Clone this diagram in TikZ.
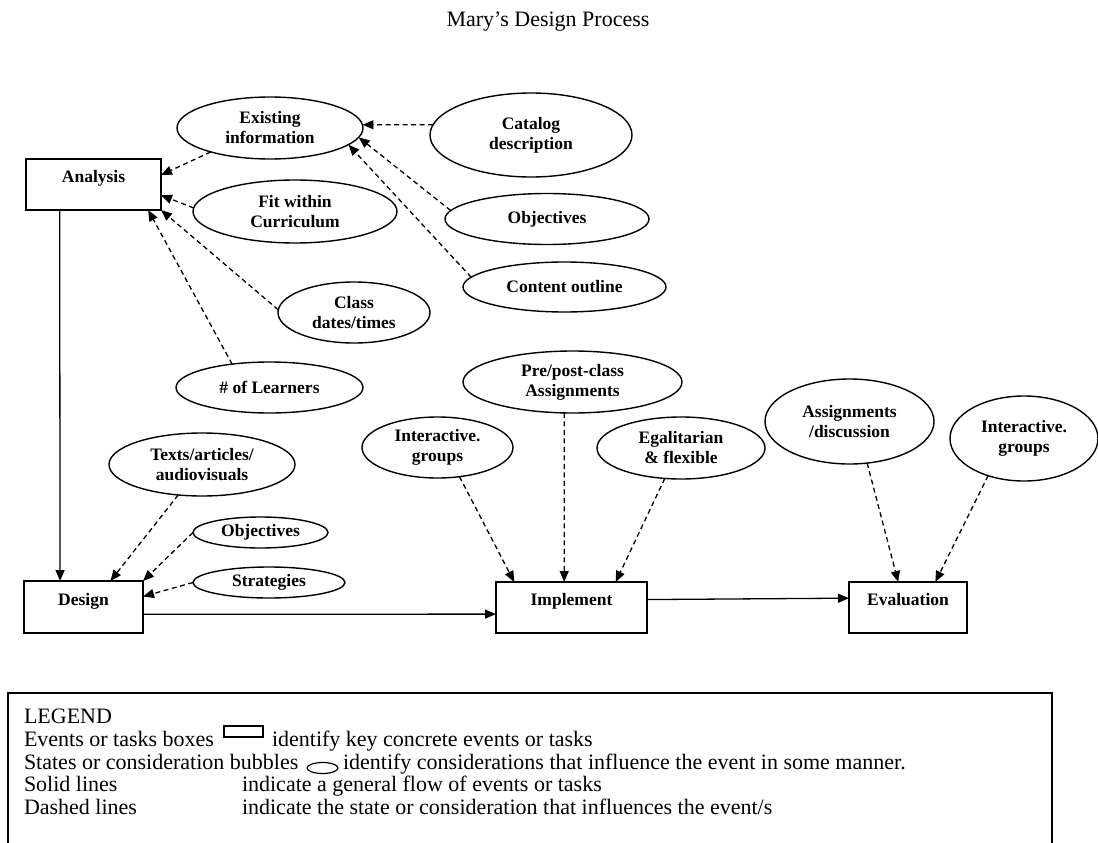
\documentclass[tikz,border=0pt]{standalone}
\usepackage{fontspec}
\setmainfont{Liberation Serif}
\usetikzlibrary{arrows.meta,shapes.geometric}

\begin{document}
\begin{tikzpicture}[x=1pt,y=-1pt,
  every node/.style={inner sep=0pt,outer sep=0pt},
  txt/.style={font=\fontsize{17.5}{20}\selectfont\bfseries,align=center},
  stepbox/.style={txt,draw,line width=1.4pt,rectangle,text height=12pt,text depth=16pt},
  bubble/.style={txt,draw,line width=1.4pt,ellipse},
  tip/.style={-{Triangle[length=11pt,width=9pt]}},
  dep/.style={draw,line width=1.3pt,dash pattern=on 5pt off 3.5pt,tip},
  flow/.style={draw,line width=1.3pt,tip},
  legendtxt/.style={font=\fontsize{22}{26}\selectfont,anchor=base west}
]
\useasboundingbox (0,0) rectangle (1098,843);

% title
\node[font=\fontsize{22}{26}\selectfont,anchor=base] (title) at (548,27) {Mary's Design Process};

% events / tasks
\node[stepbox,minimum width=135,minimum height=51] (analysis)   at (93.5,184.5) {Analysis};
\node[stepbox,minimum width=119,minimum height=52] (design)     at (83.5,607)   {Design};
\node[stepbox,minimum width=151,minimum height=51] (implement)  at (571.5,607.5) {Implement};
\node[stepbox,minimum width=118,minimum height=51] (evaluation) at (908,607.5)  {Evaluation};

% considerations
\node[bubble,minimum width=186,minimum height=62] (exist)    at (270,128)     {Existing\\information};
\node[bubble,minimum width=202,minimum height=84] (catalog)  at (531,135)     {Catalog\\description};
\node[bubble,minimum width=204,minimum height=63] (fit)      at (295,211.5)   {Fit within\\Curriculum};
\node[bubble,minimum width=204,minimum height=51] (obj1)     at (547,219)     {Objectives};
\node[bubble,minimum width=203,minimum height=50] (content)  at (564.5,287)   {Content outline};
\node[bubble,minimum width=152,minimum height=61] (class)    at (354,312.5)   {Class\\dates/times};
\node[bubble,minimum width=187,minimum height=51] (learners) at (269.5,387.5) {\# of Learners};
\node[bubble,minimum width=186,minimum height=63] (texts)    at (202,464.5)   {Texts/articles/\\audiovisuals};
\node[bubble,minimum width=135,minimum height=31] (obj2)     at (260.5,532.5) {Objectives};
\node[bubble,minimum width=152,minimum height=31] (strat)    at (269,582.5)   {Strategies};
\node[bubble,minimum width=151,minimum height=61] (inter1)   at (437.5,447.5) {Interactive.\\groups};
\node[bubble,minimum width=219,minimum height=62] (prepost)  at (572.5,382)   {Pre/post-class\\Assignments};
\node[bubble,minimum width=168,minimum height=62] (egal)     at (681,448)     {Egalitarian\\\& flexible};
\node[bubble,minimum width=169,minimum height=85] (assign)   at (849.5,421.5) {Assignments\\/discussion};
\node[bubble,minimum width=148,minimum height=85] (inter2)   at (1024,438.5)  {Interactive.\\groups};

% influences (dashed)
\draw[dep] (exist.202)    -- (analysis.8);
\draw[dep] (catalog.174)  -- (exist.2);
\draw[dep] (obj1.175)     -- (exist.-6);
\draw[dep] (content.174)  -- (exist.-12);
\draw[dep] (fit.178)      -- (analysis.-9);
\draw[dep] (class.178)    -- (analysis.south east);
\draw[dep] (learners.148) -- (analysis.-25.5);
\draw[dep] (texts.232)    -- (design.44.5);
\draw[dep] (obj2.west)    -- (design.north east);
\draw[dep] (strat.west)   -- (design.10.5);
\draw[dep] (inter1.-53)   -- (implement.156.8);
\draw[dep] (prepost.-105.3) -- (implement.106.4);
\draw[dep] (egal.242)     -- (implement.30.4);
\draw[dep] (assign.-67.6) -- (evaluation.111.4);
\draw[dep] (inter2.226.7) -- (evaluation.43.4);

% general flow (solid)
\draw[flow] (analysis.217.3) -- (design.132.1);
\draw[flow] (design.-7.7)    -- (implement.185.7);
\draw[flow] (implement.6.4)  -- (evaluation.171.8);

% legend
\draw[line width=1.4pt] (8,845) -- (8,693) -- (1052,693) -- (1052,845);
\node[legendtxt] (lg0)  at (24,723)  {LEGEND};
\node[legendtxt] (lg1a) at (24,746)  {Events or tasks boxes};
\node[draw,line width=1.2pt,minimum width=39,minimum height=11] (iconbox) at (243.5,731.5) {};
\node[legendtxt] (lg1b) at (272,746) {identify key concrete events or tasks};
\node[legendtxt] (lg2a) at (24,769)  {States or consideration bubbles};
\node[draw,line width=1.2pt,ellipse,minimum width=31,minimum height=11] (iconell) at (322.5,768) {};
\node[legendtxt] (lg2b) at (343,769) {identify considerations that influence the event in some manner.};
\node[legendtxt] (lg3a) at (24,791)  {Solid lines};
\node[legendtxt] (lg3b) at (242,791) {indicate a general flow of events or tasks};
\node[legendtxt] (lg4a) at (24,814)  {Dashed lines};
\node[legendtxt] (lg4b) at (242,814) {indicate the state or consideration that influences the event/s};
\end{tikzpicture}
\end{document}
